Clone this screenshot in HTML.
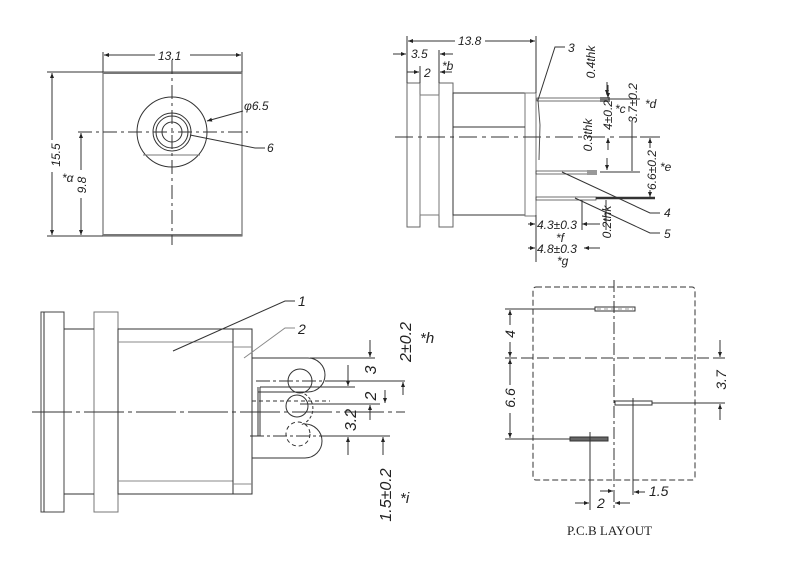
<!DOCTYPE html>
<html><head><style>
body{margin:0;background:#fff}
svg text{font-family:"Liberation Sans",sans-serif;font-style:italic;fill:#222}
</style></head><body>
<svg width="800" height="563" viewBox="0 0 800 563" xmlns="http://www.w3.org/2000/svg">
<defs>
<marker id="a" viewBox="0 0 10 10" refX="10" refY="5" markerWidth="7" markerHeight="5" orient="auto-start-reverse"><path d="M0,1 L10,5 L0,9z" fill="#222"/></marker>
</defs>
<g stroke="#333" stroke-width="1" fill="none">
<rect x="103" y="72" width="139" height="164" stroke="#555"/>
<line x1="103" y1="73" x2="242" y2="73" stroke-width="2" stroke="#777"/>
<line x1="103" y1="235" x2="242" y2="235" stroke-width="2" stroke="#777"/>
<circle cx="172" cy="132" r="35"/>
<line x1="143" y1="155" x2="200" y2="155" stroke="#777"/>
<circle cx="172" cy="132" r="19"/><circle cx="172" cy="132" r="16"/><circle cx="172" cy="132" r="10"/>
<line x1="78" y1="132" x2="248" y2="132" stroke-dasharray="14,4,3,4"/>
<line x1="172" y1="60" x2="172" y2="245" stroke-dasharray="14,4,3,4"/>
<line x1="103" y1="52" x2="103" y2="72"/><line x1="242" y1="52" x2="242" y2="72"/>
<line x1="104" y1="55" x2="155" y2="55" marker-start="url(#a)"/><line x1="190" y1="55" x2="241" y2="55" marker-end="url(#a)"/>
<line x1="47" y1="72" x2="103" y2="72"/><line x1="47" y1="236" x2="103" y2="236"/>
<line x1="52" y1="73" x2="52" y2="140" marker-start="url(#a)"/><line x1="52" y1="172" x2="52" y2="235" marker-end="url(#a)"/>
<line x1="81" y1="133" x2="81" y2="170" marker-start="url(#a)"/><line x1="81" y1="198" x2="81" y2="235" marker-end="url(#a)"/>
<line x1="207" y1="121" x2="243" y2="111" marker-start="url(#a)"/>
<polyline points="190,135 255,148 265,148"/>
<rect x="407" y="83" width="13" height="144" stroke="#666"/>
<rect x="439" y="83" width="14" height="144" stroke="#666"/>
<rect x="420" y="95" width="19" height="120" stroke="#777"/>
<rect x="453" y="93" width="72" height="122"/>
<rect x="525" y="93" width="11" height="123" stroke="#777"/>
<line x1="453" y1="127" x2="525" y2="127"/>
<line x1="395" y1="137" x2="650" y2="137" stroke-dasharray="18,5,4,5"/>
<polyline points="538,100 540,125 539,160" stroke="#555"/>
<rect x="537" y="98" width="65" height="3" stroke-width=".7"/>
<rect x="600" y="97" width="10" height="5" fill="#777" stroke="none"/>
<rect x="536" y="171" width="54" height="3" stroke-width=".7"/>
<rect x="587" y="170" width="10" height="5" fill="#999" stroke="none"/>
<rect x="536" y="197" width="60" height="3" stroke-width=".7"/>
<line x1="596" y1="198" x2="655" y2="198" stroke-width="2.5"/>
<line x1="407" y1="36" x2="407" y2="83"/><line x1="536" y1="36" x2="536" y2="93"/>
<line x1="408" y1="41" x2="455" y2="41" marker-start="url(#a)"/><line x1="485" y1="41" x2="535" y2="41" marker-end="url(#a)"/>
<line x1="393" y1="54" x2="406" y2="54" marker-end="url(#a)"/><line x1="453" y1="54" x2="440" y2="54" marker-end="url(#a)"/>
<line x1="420" y1="66" x2="420" y2="83"/><line x1="439" y1="50" x2="439" y2="83"/>
<line x1="407" y1="72" x2="419" y2="72" marker-end="url(#a)"/><line x1="452" y1="72" x2="440" y2="72" marker-end="url(#a)"/>
<polyline points="538,100 555,47 565,47"/>
<polyline points="562,172 650,213 660,213"/>
<polyline points="575,198 650,233 660,233"/>
<line x1="607" y1="82" x2="607" y2="95" marker-end="url(#a)"/>
<line x1="606" y1="200" x2="606" y2="230"/>
<line x1="607" y1="158" x2="607" y2="170" marker-end="url(#a)"/>
<line x1="608" y1="99" x2="640" y2="99"/>
<line x1="608" y1="85" x2="608" y2="98" marker-end="url(#a)"/><line x1="608" y1="150" x2="608" y2="138" marker-end="url(#a)"/>
<line x1="632" y1="120" x2="632" y2="171"/>
<line x1="600" y1="172" x2="640" y2="172"/>
<line x1="650" y1="138" x2="650" y2="148" marker-start="url(#a)"/><line x1="650" y1="190" x2="650" y2="197" marker-end="url(#a)"/>
<line x1="640" y1="137" x2="660" y2="137"/>
<line x1="536" y1="215" x2="536" y2="262"/>
<line x1="528" y1="224" x2="535" y2="224" marker-end="url(#a)"/><line x1="600" y1="224" x2="582" y2="224" marker-end="url(#a)"/>
<line x1="528" y1="248" x2="535" y2="248" marker-end="url(#a)"/><line x1="600" y1="248" x2="584" y2="248" marker-end="url(#a)"/>
<line x1="582" y1="200" x2="582" y2="230"/>
<rect x="41" y="312" width="23" height="200" stroke="#444"/>
<line x1="44" y1="312" x2="44" y2="512"/>
<rect x="94" y="312" width="24" height="200" stroke="#777"/>
<line x1="64" y1="329" x2="94" y2="329"/><line x1="64" y1="494" x2="94" y2="494"/>
<rect x="118" y="329" width="115" height="165"/>
<line x1="118" y1="342" x2="233" y2="342" stroke="#888"/><line x1="118" y1="481" x2="233" y2="481" stroke="#888"/>
<rect x="233" y="329" width="19" height="165"/>
<line x1="233" y1="347" x2="252" y2="347" stroke="#888"/><line x1="233" y1="484" x2="252" y2="484" stroke="#888"/>
<line x1="32" y1="412" x2="405" y2="412" stroke-dasharray="40,4,4,4"/>
<path d="M252,358 L308,358 A17,17 0 0 1 308,392 L258,392"/>
<path d="M252,458 L305,458 A17,17 0 0 0 305,424"/>
<path d="M300,392 A17,17 0 0 1 300,425" stroke-dasharray="3,2"/>
<line x1="258" y1="387" x2="258" y2="436"/><line x1="260" y1="387" x2="260" y2="436"/>
<circle cx="300" cy="381" r="12"/>
<circle cx="297" cy="406" r="11"/>
<circle cx="298" cy="434" r="12" stroke-dasharray="4,3"/>
<line x1="256" y1="381" x2="330" y2="381" stroke-dasharray="14,3,3,3"/>
<line x1="252" y1="401" x2="330" y2="401" stroke-dasharray="4,3"/>
<line x1="250" y1="436" x2="325" y2="436" stroke-dasharray="14,3,3,3"/>
<line x1="310" y1="358" x2="375" y2="358"/>
<line x1="330" y1="381" x2="405" y2="381"/>
<line x1="260" y1="387" x2="355" y2="387"/>
<line x1="300" y1="404" x2="380" y2="404"/>
<line x1="325" y1="436" x2="390" y2="436"/>
<line x1="370" y1="340" x2="370" y2="357" marker-end="url(#a)"/>
<line x1="348" y1="365" x2="348" y2="386" marker-end="url(#a)"/>
<line x1="348" y1="455" x2="348" y2="437" marker-end="url(#a)"/>
<line x1="385" y1="390" x2="385" y2="403" marker-end="url(#a)"/>
<line x1="370" y1="420" x2="370" y2="405" marker-end="url(#a)"/>
<line x1="403" y1="395" x2="403" y2="382" marker-end="url(#a)"/>
<line x1="383" y1="455" x2="383" y2="437" marker-end="url(#a)"/>
<polyline points="173,351 285,301 295,301"/>
<polyline points="244,358 285,328 295,328" stroke="#888"/>
<rect x="533" y="287" width="162" height="193" rx="3" stroke-dasharray="6,3"/>
<line x1="614" y1="280" x2="614" y2="510" stroke-dasharray="12,3,3,3"/>
<line x1="505" y1="358" x2="725" y2="358" stroke-dasharray="12,4"/>
<rect x="595" y="307" width="40" height="4"/><line x1="597" y1="309" x2="633" y2="309" stroke-dasharray="4,3" stroke-width=".6"/>
<rect x="615" y="401" width="37" height="4"/>
<rect x="570" y="437" width="38" height="4" fill="#666"/>
<line x1="505" y1="309" x2="595" y2="309"/>
<line x1="505" y1="439" x2="570" y2="439"/>
<line x1="652" y1="403" x2="725" y2="403"/>
<line x1="510" y1="310" x2="510" y2="325" marker-start="url(#a)"/><line x1="510" y1="342" x2="510" y2="357" marker-end="url(#a)"/>
<line x1="510" y1="359" x2="510" y2="385" marker-start="url(#a)"/><line x1="510" y1="413" x2="510" y2="438" marker-end="url(#a)"/>
<line x1="720" y1="340" x2="720" y2="357" marker-end="url(#a)"/><line x1="720" y1="420" x2="720" y2="404" marker-end="url(#a)"/>
<line x1="633" y1="398" x2="633" y2="495"/>
<line x1="590" y1="432" x2="590" y2="510"/>
<line x1="600" y1="491" x2="613" y2="491" marker-end="url(#a)"/>
<line x1="645" y1="492" x2="634" y2="492" marker-end="url(#a)"/>
<line x1="575" y1="503" x2="589" y2="503" marker-end="url(#a)"/>
<line x1="630" y1="503" x2="615" y2="503" marker-end="url(#a)"/>
</g>
<g font-size="12">
<text x="158" y="60">13.1</text>
<text x="244" y="110">φ6.5</text>
<text x="267" y="152">6</text>
<text transform="translate(60,155) rotate(-90)" text-anchor="middle">15.5</text>
<text transform="translate(86,185) rotate(-90)" text-anchor="middle">9.8</text>
<text x="62" y="182">*α</text>
<text x="458" y="45">13.8</text>
<text x="411" y="58">3.5</text>
<text x="424" y="77">2</text>
<text x="442" y="70">*b</text>
<text x="568" y="52">3</text>
<text x="664" y="217">4</text>
<text x="664" y="238">5</text>
<text x="645" y="108">*d</text>
<text x="660" y="171">*e</text>
<text x="615" y="113">*c</text>
<text transform="translate(595,62) rotate(-90)" text-anchor="middle">0.4thk</text>
<text transform="translate(612,115) rotate(-90)" text-anchor="middle">4±0.2</text>
<text transform="translate(637,103) rotate(-90)" text-anchor="middle">3.7±0.2</text>
<text transform="translate(592,135) rotate(-90)" text-anchor="middle">0.3thk</text>
<text transform="translate(656,170) rotate(-90)" text-anchor="middle">6.6±0.2</text>
<text transform="translate(611,222) rotate(-90)" text-anchor="middle">0.2thk</text>
<text x="537" y="229">4.3±0.3</text>
<text x="556" y="242">*f</text>
<text x="537" y="253">4.8±0.3</text>
<text x="557" y="265">*g</text>
<text x="298" y="306" font-size="14">1</text>
<text x="298" y="334" font-size="14">2</text>
<text transform="translate(411,342) rotate(-90)" text-anchor="middle" font-size="16">2±0.2</text>
<text x="420" y="343" font-size="15">*h</text>
<text transform="translate(376,370) rotate(-90)" text-anchor="middle" font-size="16">3</text>
<text transform="translate(376,396) rotate(-90)" text-anchor="middle" font-size="16">2</text>
<text transform="translate(356,420) rotate(-90)" text-anchor="middle" font-size="16">3.2</text>
<text transform="translate(391,495) rotate(-90)" text-anchor="middle" font-size="16">1.5±0.2</text>
<text x="400" y="503" font-size="15">*i</text>
<text transform="translate(515,334) rotate(-90)" text-anchor="middle" font-size="14">4</text>
<text transform="translate(515,398) rotate(-90)" text-anchor="middle" font-size="14">6.6</text>
<text transform="translate(726,380) rotate(-90)" text-anchor="middle" font-size="14">3.7</text>
<text x="649" y="496" font-size="14">1.5</text>
<text x="597" y="508" font-size="14">2</text>
<text x="567" y="535" font-size="13" style="font-family:'Liberation Serif',serif;font-style:normal">P.C.B  LAYOUT</text>
</g>
</svg>
</body></html>
